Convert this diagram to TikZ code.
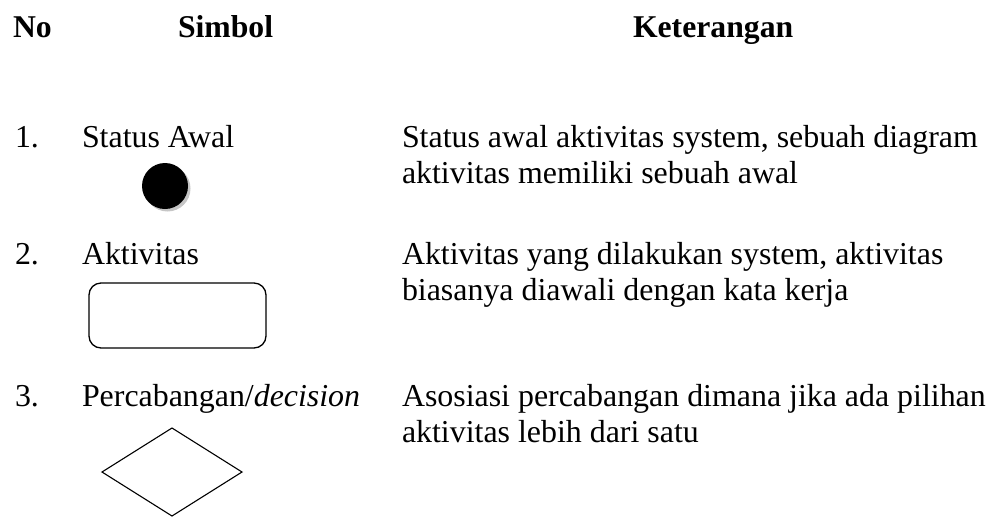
\documentclass[tikz,border=0pt]{standalone}
\usepackage{fontspec}
\setmainfont{Liberation Serif}
\begin{document}
\begin{tikzpicture}[x=1pt,y=-1pt,
  txt/.style={anchor=base west,inner sep=0pt,outer sep=0pt,font=\fontsize{31.9}{36}\selectfont},
  hdr/.style={txt,font=\fontsize{31.7}{36}\selectfont\bfseries},
  shp/.style={draw=black,line width=1.3pt}]
\useasboundingbox (0,0) rectangle (992,517);
% headers
\node[hdr] (hno) at (13,37) {No};
\node[hdr] (hsim) at (178,37) {Simbol};
\node[hdr] (hket) at (633,37) {Keterangan};
% row 1
\node[txt] (n1) at (15,147) {1.};
\node[txt] (s1) at (82,147) {Status Awal};
\node[txt] (d1a) at (402,147) {Status awal aktivitas system, sebuah diagram};
\node[txt] (d1b) at (402,183) {aktivitas memiliki sebuah awal};
\fill[gray!45] (167.5,188.5) circle (23);
\fill[black] (165,186) circle (23);
% row 2
\node[txt] (n2) at (15,264) {2.};
\node[txt] (s2) at (82,264) {Aktivitas};
\node[txt] (d2a) at (402,264) {Aktivitas yang dilakukan system, aktivitas};
\node[txt] (d2b) at (402,300) {biasanya diawali dengan kata kerja};
\draw[shp,rounded corners=12pt] (89,283) rectangle (266,348);
% row 3
\node[txt] (n3) at (15,406) {3.};
\node[txt] (s3) at (82,406) {Percabangan/\textit{decision}};
\node[txt] (d3a) at (402,406) {Asosiasi percabangan dimana jika ada pilihan};
\node[txt] (d3b) at (402,442) {aktivitas lebih dari satu};
\draw[shp,line width=1.1pt] (172,428) -- (242,472) -- (172,516) -- (102,472) -- cycle;
\end{tikzpicture}
\end{document}
